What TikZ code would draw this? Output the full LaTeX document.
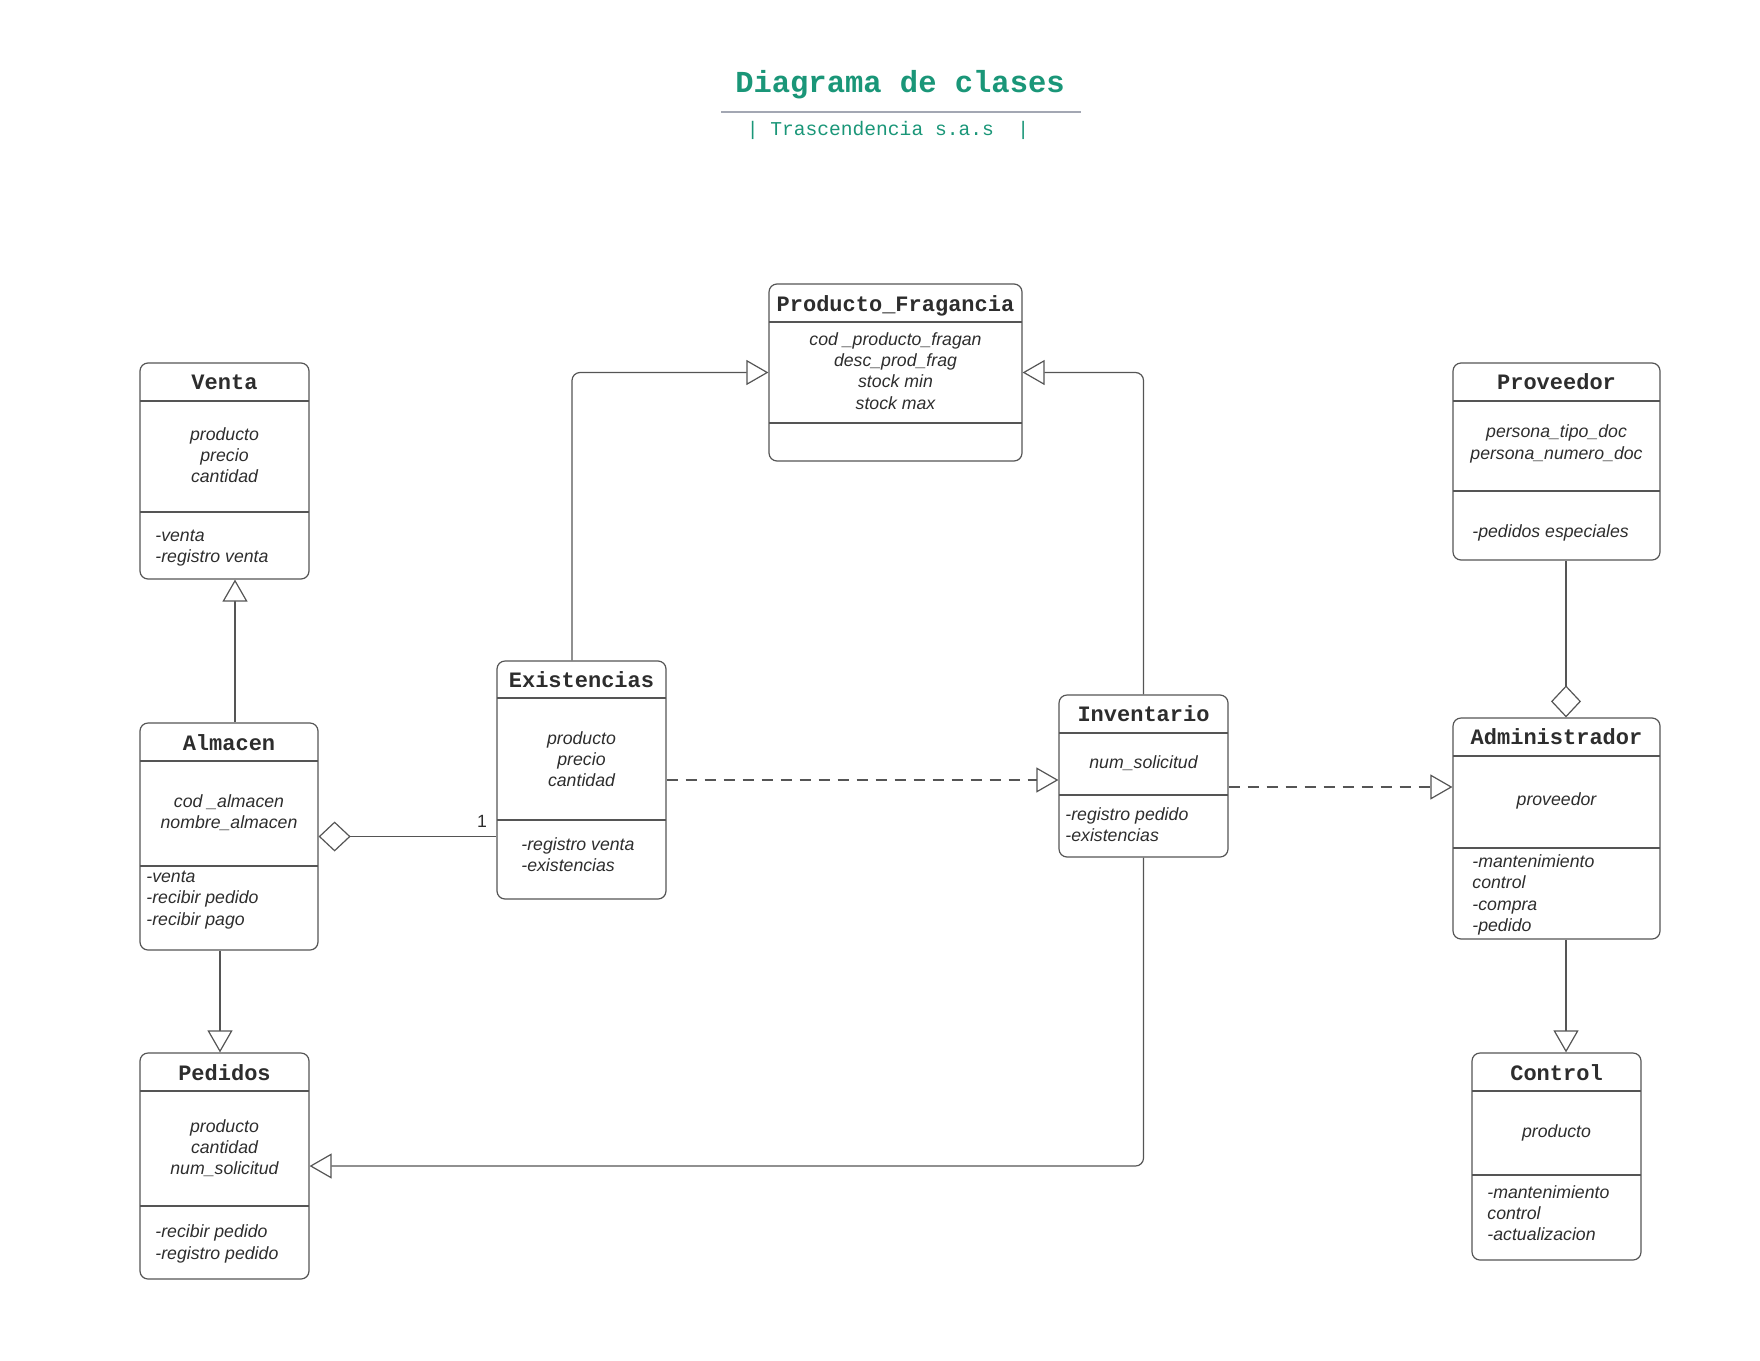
\documentclass[tikz,border=0pt]{standalone}
\usepackage{fontspec}
\setmainfont{Liberation Sans}
\newfontfamily\monofont{Liberation Mono}
\usetikzlibrary{arrows.meta,fit,calc}
\definecolor{ttl}{RGB}{26,150,120}
\definecolor{bord}{RGB}{85,85,85}
\definecolor{txt}{RGB}{45,45,45}
\definecolor{rulec}{RGB}{163,167,179}
\begin{document}
\begin{tikzpicture}[x=0.5pt,y=-0.5pt,
  cls/.style={draw=bord,line width=0.6pt,rounded corners=4pt,inner sep=0pt},
  sepline/.style={draw=bord,line width=0.6pt},
  hdr/.style={font=\monofont\bfseries\fontsize{11}{12}\selectfont,text=txt,inner sep=0pt,anchor=base},
  attr/.style={font=\itshape\fontsize{8.85}{10.65}\selectfont,text=txt,align=center,inner sep=0pt},
  meth/.style={font=\itshape\fontsize{8.85}{10.65}\selectfont,text=txt,align=left,inner sep=0pt,anchor=west},
  conn/.style={draw=bord,line width=0.6pt},
  gen/.style={conn,-{Triangle[fill=white,length=11pt,width=12.5pt]}},
  realz/.style={gen,dash pattern=on 5.5pt off 4pt},
  aggstart/.style={conn,{Diamond[fill=white,length=16pt,width=15pt]}-},
  aggend/.style={conn,-{Diamond[fill=white,length=16pt,width=15pt]}}
]
\useasboundingbox (0,0) rectangle (1760,1360);

% Title
\node[font=\monofont\bfseries\fontsize{15.25}{17}\selectfont,text=ttl,anchor=base,inner sep=0pt] (title) at (900,92) {Diagrama de clases};
\draw[rulec,line width=1pt] (721,112) -- (1081,112);
\node[font=\monofont\fontsize{9.8}{11}\selectfont,text=ttl,anchor=base,inner sep=0pt] (subtitle) at (888,135) {|~Trascendencia s.a.s~~|};

% Venta
\node[cls,fit={(140,363)(309,579)}] (venta) {};
\draw[sepline] (140,401) -- (309,401);
\draw[sepline] (140,512) -- (309,512);
\node[hdr] (ventaT) at (224.5,389) {Venta};
\node[attr] (ventaA) at (224.5,455) {producto\\precio\\cantidad};
\node[meth] (ventaM) at (155,548) {-venta\\-registro venta};

% Almacen
\node[cls,fit={(140,723)(318,950)}] (almacen) {};
\draw[sepline] (140,761) -- (318,761);
\draw[sepline] (140,866) -- (318,866);
\node[hdr] (almacenT) at (229,750) {Almacen};
\node[attr] (almacenA) at (229,813) {cod \_almacen\\nombre\_almacen};
\node[meth] (almacenM) at (146,900) {-venta\\-recibir pedido\\-recibir pago};

% Pedidos
\node[cls,fit={(140,1053)(309,1279)}] (pedidos) {};
\draw[sepline] (140,1091) -- (309,1091);
\draw[sepline] (140,1206) -- (309,1206);
\node[hdr] (pedidosT) at (224.5,1080) {Pedidos};
\node[attr] (pedidosA) at (224.5,1148) {producto\\cantidad\\num\_solicitud};
\node[meth] (pedidosM) at (155,1244) {-recibir pedido\\-registro pedido};

% Existencias
\node[cls,fit={(497,661)(666,899)}] (existencias) {};
\draw[sepline] (497,698) -- (666,698);
\draw[sepline] (497,820) -- (666,820);
\node[hdr] (existenciasT) at (581.5,687) {Existencias};
\node[attr] (existenciasA) at (581.5,759) {producto\\precio\\cantidad};
\node[meth] (existenciasM) at (521,855) {-registro venta\\-existencias};

% Producto_Fragancia
\node[cls,fit={(769,284)(1022,461)}] (producto) {};
\draw[sepline] (769,322) -- (1022,322);
\draw[sepline] (769,423) -- (1022,423);
\node[hdr] (productoT) at (895.5,311) {Producto\_Fragancia};
\node[attr] (productoA) at (895.5,371) {cod \_producto\_fragan\\desc\_prod\_frag\\stock min\\stock max};

% Inventario
\node[cls,fit={(1059,695)(1228,857)}] (inventario) {};
\draw[sepline] (1059,733) -- (1228,733);
\draw[sepline] (1059,795) -- (1228,795);
\node[hdr] (inventarioT) at (1143.5,721) {Inventario};
\node[attr] (inventarioA) at (1143.5,763) {num\_solicitud};
\node[meth] (inventarioM) at (1065,825) {-registro pedido\\-existencias};

% Proveedor
\node[cls,fit={(1453,363)(1660,560)}] (proveedor) {};
\draw[sepline] (1453,401) -- (1660,401);
\draw[sepline] (1453,491) -- (1660,491);
\node[hdr] (proveedorT) at (1556.5,389) {Proveedor};
\node[attr] (proveedorA) at (1556.5,444) {persona\_tipo\_doc\\persona\_numero\_doc};
\node[meth] (proveedorM) at (1472,533) {-pedidos especiales};

% Administrador
\node[cls,fit={(1453,718)(1660,939)}] (admin) {};
\draw[sepline] (1453,756) -- (1660,756);
\draw[sepline] (1453,848) -- (1660,848);
\node[hdr] (adminT) at (1556.5,744) {Administrador};
\node[attr] (adminA) at (1556.5,801) {proveedor};
\node[meth] (adminM) at (1472,895) {-mantenimiento\\control\\-compra\\-pedido};

% Control
\node[cls,fit={(1472,1053)(1641,1260)}] (control) {};
\draw[sepline] (1472,1091) -- (1641,1091);
\draw[sepline] (1472,1175) -- (1641,1175);
\node[hdr] (controlT) at (1556.5,1080) {Control};
\node[attr] (controlA) at (1556.5,1133) {producto};
\node[meth] (controlM) at (1487,1213) {-mantenimiento\\control\\-actualizacion};

% Connectors
\coordinate (a1) at ($(almacen.north)+(6,0)$);
\draw[gen] (a1) -- (a1 |- venta.south);
\coordinate (a2) at ($(almacen.south)+(-9,0)$);
\draw[gen] (a2) -- (a2 |- pedidos.north);
\draw[aggstart] (almacen.east) -- (almacen.east -| existencias.west);
\node[font=\fontsize{8.85}{10}\selectfont,text=txt,inner sep=0pt] (lab1) at (482,821) {1};

\coordinate (e1) at ($(existencias.north)+(-9.5,0)$);
\draw[gen,rounded corners=4pt] (e1) |- (producto.west);
\draw[gen,rounded corners=4pt] (inventario.north) |- (producto.east);
\draw[realz] (existencias.east) -- (existencias.east -| inventario.west);
\coordinate (i1) at ($(inventario.east)+(0,11)$);
\draw[realz] (i1) -- (i1 -| admin.west);
\draw[gen,rounded corners=4pt] (inventario.south) |- (pedidos.east);

\coordinate (p1) at ($(proveedor.south)+(9.5,0)$);
\draw[aggend] (p1) -- (p1 |- admin.north);
\coordinate (c1) at ($(admin.south)+(9.5,0)$);
\draw[gen] (c1) -- (c1 |- control.north);
\end{tikzpicture}
\end{document}
